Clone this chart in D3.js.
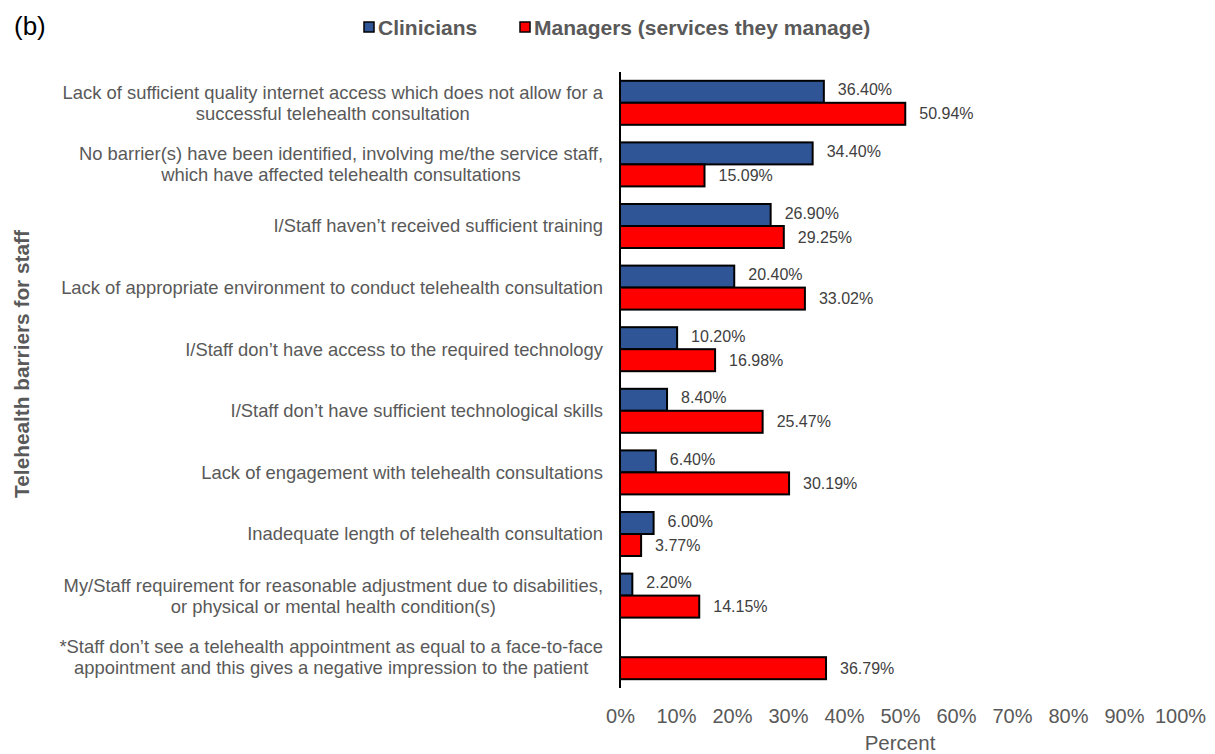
<!DOCTYPE html>
<html><head><meta charset="utf-8">
<script src="https://cdn.jsdelivr.net/npm/d3@7"></script>
<style>body{margin:0;background:#fff}svg{display:block}text{font-family:"Liberation Sans",Arial,sans-serif}</style>
</head><body><svg id="c" width="1215" height="754"></svg>
<script>
const categories = [
  ["Lack of sufficient quality internet access which does not allow for a","successful telehealth consultation"],
  ["No barrier(s) have been identified, involving me/the service staff,","which have affected telehealth consultations"],
  ["I/Staff haven\u2019t received sufficient training"],
  ["Lack of appropriate environment to conduct telehealth consultation"],
  ["I/Staff don\u2019t have access to the required technology"],
  ["I/Staff don\u2019t have sufficient technological skills"],
  ["Lack of engagement with telehealth consultations"],
  ["Inadequate length of telehealth consultation"],
  ["My/Staff requirement for reasonable adjustment due to disabilities,","or physical or mental health condition(s)"],
  ["*Staff don\u2019t see a telehealth appointment as equal to a face-to-face","appointment and this gives a negative impression to the patient"]
];
const clinicians = [36.40, 34.40, 26.90, 20.40, 10.20, 8.40, 6.40, 6.00, 2.20, null];
const managers = [50.94, 15.09, 29.25, 33.02, 16.98, 25.47, 30.19, 3.77, 14.15, 36.79];
const seriesNames = ["Clinicians", "Managers (services they manage)"];
const seriesColors = ["#2F5597", "#FF0000"];
const xTicks = [0,10,20,30,40,50,60,70,80,90,100];

const svg = d3.select("#c");
const x = d3.scaleLinear().domain([0,100]).range([620,1180]);
const y = d3.scaleBand().domain(d3.range(categories.length)).range([72,688]);
const sub = d3.scaleBand().domain([0,1]).range([-22,22]);

svg.append("text").attr("x",14).attr("y",35).attr("font-size",26).attr("fill","#000").text("(b)");

// legend
const leg = [{x:364,i:0},{x:520,i:1}];
leg.forEach(l=>{
  svg.append("rect").attr("x",l.x).attr("y",22).attr("width",10).attr("height",10)
    .attr("fill",seriesColors[l.i]).attr("stroke","#000").attr("stroke-width",1.5);
  svg.append("text").attr("x",l.x+14).attr("y",34.5).attr("font-size",21).attr("font-weight","bold")
    .attr("fill","#595959").text(seriesNames[l.i]);
});

// bars
const series = [clinicians, managers];
series.forEach((vals, si)=>{
  const d = vals.map((v,i)=>({v,i})).filter(e=>e.v!==null);
  svg.append("g").selectAll("rect").data(d).join("rect")
    .attr("x",x(0)).attr("y",e=>y(e.i)+y.bandwidth()/2+sub(si))
    .attr("width",e=>x(e.v)-x(0)).attr("height",sub.bandwidth())
    .attr("fill",seriesColors[si]).attr("stroke","#000").attr("stroke-width",2);
  svg.append("g").selectAll("text").data(d).join("text")
    .attr("x",e=>x(e.v)+14).attr("y",e=>y(e.i)+y.bandwidth()/2+sub(si)+sub.bandwidth()/2 - (si===0?2:0))
    .attr("dy","0.35em").attr("font-size",16).attr("fill","#404040")
    .text(e=>e.v.toFixed(2)+"%");
});

// y axis line
svg.append("line").attr("x1",x(0)).attr("x2",x(0)).attr("y1",72).attr("y2",688)
  .attr("stroke","#000").attr("stroke-width",2);

// category labels
const cg = svg.append("g");
categories.forEach((lines,i)=>{
  const cy = y(i)+y.bandwidth()/2;
  const n = lines.length;
  const t = cg.append("text").attr("font-size",18.4).attr("fill","#595959");
  lines.forEach((ln,k)=>{
    t.append("tspan").attr("y",cy+(k-(n-1)/2)*21).attr("dy","0.35em").text(ln);
  });
  const spans = t.selectAll("tspan").nodes();
  const maxW = d3.max(spans.map(s=>s.getComputedTextLength()));
  const center = 603 - maxW/2;
  spans.forEach(s=>{ d3.select(s).attr("x",center).attr("text-anchor","middle"); });
});

// x axis tick labels
const xa = svg.append("g").attr("transform","translate(0,699)")
  .call(d3.axisBottom(x).tickValues(xTicks).tickFormat(d=>d+"%").tickSize(0).tickPadding(10));
xa.select(".domain").remove();
xa.selectAll("text").attr("font-size",20).attr("fill","#595959").attr("font-family","Liberation Sans, Arial, sans-serif");

svg.append("text").attr("x",900).attr("y",750).attr("text-anchor","middle").attr("font-size",20.5)
  .attr("fill","#595959").text("Percent");

svg.append("text").attr("transform","translate(29,364) rotate(-90)").attr("text-anchor","middle")
  .attr("font-size",20.8).attr("font-weight","bold").attr("fill","#595959").text("Telehealth barriers for staff");
</script></body></html>
